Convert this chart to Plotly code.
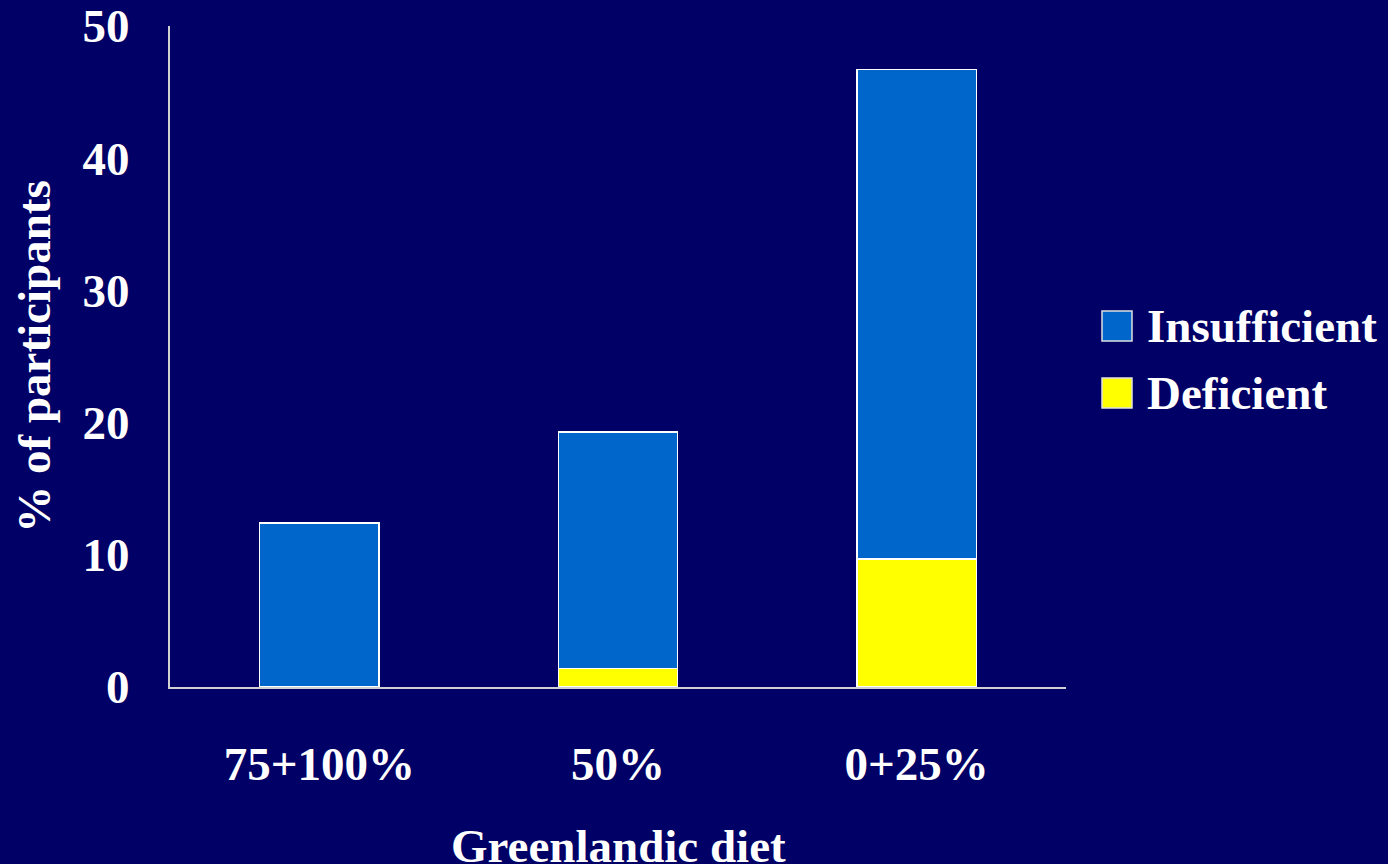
import plotly.graph_objects as go

# Vitamin D status by share of Greenlandic diet
diet_groups = ["75+100%", "50%", "0+25%"]
deficient = [0.0, 1.4, 9.7]
insufficient_total = [12.4, 19.3, 46.7]  # bar tops (deficient + insufficient)
insufficient = [t - d for t, d in zip(insufficient_total, deficient)]

series_names = ["Insufficient", "Deficient"]
y_ticks = [0, 10, 20, 30, 40, 50]

BG = "#000066"
BLUE = "#0066CC"
YELLOW = "#FFFF00"
FONT = "Liberation Serif"

fig = go.Figure()
fig.add_bar(x=diet_groups, y=deficient, name=series_names[1],
            marker=dict(color=YELLOW, line=dict(color="white", width=1.5)),
            width=0.4, showlegend=False)
fig.add_bar(x=diet_groups, y=insufficient, name=series_names[0],
            marker=dict(color=BLUE, line=dict(color="white", width=1.5)),
            width=0.4, showlegend=False)

W, H = 1388, 864
L, R, T, B = 170, 322, 26, 177
pw, ph = W - L - R, H - T - B

# Legend: coloured squares with labels to the right of the plot
legend_items = [(series_names[0], BLUE, 326), (series_names[1], YELLOW, 393)]
for name, color, yc in legend_items:
    x0 = (1102 - L) / pw
    x1 = (1132 - L) / pw
    y0 = (H - B - (yc + 15)) / ph
    y1 = (H - B - (yc - 15)) / ph
    fig.add_shape(type="rect", xref="paper", yref="paper",
                  x0=x0, x1=x1, y0=y0, y1=y1,
                  fillcolor=color, line=dict(color="#E0E0E0", width=1.5))
    fig.add_annotation(xref="paper", yref="paper",
                       x=(1145 - L) / pw, y=(H - B - yc) / ph,
                       text=f"<b>{name}</b>", showarrow=False,
                       xanchor="left", yanchor="middle",
                       font=dict(family=FONT, size=47, color="white"))

# x-axis caption below the category labels
fig.add_annotation(xref="paper", yref="paper",
                   x=0.5, y=(H - B - 846) / ph,
                   text="<b>Greenlandic diet</b>", showarrow=False,
                   xanchor="center", yanchor="middle",
                   font=dict(family=FONT, size=47, color="white"))

fig.update_layout(
    width=W, height=H,
    margin=dict(l=L, r=R, t=T, b=B, autoexpand=False),
    paper_bgcolor=BG, plot_bgcolor=BG,
    barmode="stack",
    showlegend=False,
    font=dict(family=FONT, size=47, color="white"),
)
fig.update_xaxes(
    showline=True, linecolor="#D0D0D0", linewidth=2,
    showgrid=False, ticks="", zeroline=False,
    tickfont=dict(family=FONT, size=47, color="white", weight="bold"),
    ticklabelstandoff=35,
)
fig.update_yaxes(
    range=[0, 50], tickvals=y_ticks,
    showline=True, linecolor="#D0D0D0", linewidth=2,
    showgrid=False, ticks="", zeroline=False,
    tickfont=dict(family=FONT, size=47, color="white", weight="bold"),
    ticklabelstandoff=29,
    title=dict(text="<b>% of participants</b>", standoff=17,
               font=dict(family=FONT, size=47, color="white")),
)

fig.write_html("out.html")
